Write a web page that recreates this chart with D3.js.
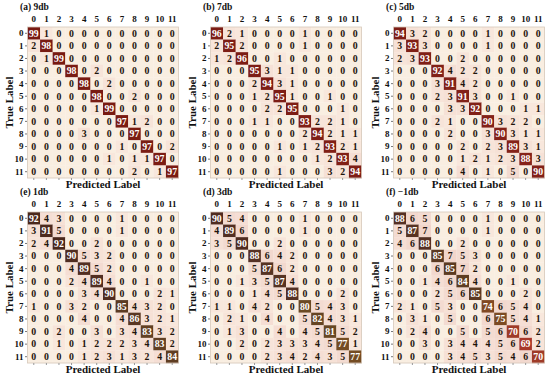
<!DOCTYPE html>
<html>
<head>
<meta charset="utf-8">
<script src="https://cdn.jsdelivr.net/npm/d3@7"></script>
<style>
  html, body { margin: 0; padding: 0; background: #ffffff; }
  svg { display: block; }
  text { font-family: "Liberation Serif", "Times New Roman", serif; font-weight: bold; }
</style>
</head>
<body>
<svg id="chart" width="550" height="378"></svg>
<script>
const classLabels = ["0","1","2","3","4","5","6","7","8","9","10","11"];
const panelTitles = ["(a) 9db", "(b) 7db", "(c) 5db", "(e) 1db", "(d) 3db", "(f) \u22121db"];

const mat9db = [
  [99,1,0,0,0,0,0,0,0,0,0,0],
  [2,98,0,0,0,0,0,0,0,0,0,0],
  [0,1,99,0,0,0,0,0,0,0,0,0],
  [0,0,0,98,0,2,0,0,0,0,0,0],
  [0,0,0,0,98,0,2,0,0,0,0,0],
  [0,0,0,0,0,98,0,0,2,0,0,0],
  [0,0,0,0,0,1,99,0,0,0,0,0],
  [0,0,0,0,0,0,0,97,1,2,0,0],
  [0,0,0,0,3,0,0,0,97,0,0,0],
  [0,0,0,0,0,0,0,1,0,97,0,2],
  [0,0,0,0,0,0,1,0,1,1,97,0],
  [0,0,0,0,0,0,0,0,2,0,1,97]
];
const mat7db = [
  [96,2,1,0,0,0,0,1,0,0,0,0],
  [2,95,2,0,0,0,0,1,0,0,0,0],
  [1,2,96,0,0,1,0,0,0,0,0,0],
  [0,0,0,95,3,1,1,0,0,0,0,0],
  [0,0,0,2,94,3,1,0,0,0,0,0],
  [0,0,0,1,2,95,1,0,0,1,0,0],
  [0,0,0,0,2,2,95,0,0,0,1,0],
  [0,0,0,1,1,0,0,93,2,2,1,0],
  [0,0,0,0,0,0,0,2,94,2,1,1],
  [0,0,0,0,0,1,0,1,2,93,2,1],
  [0,0,0,0,0,0,0,0,1,2,93,4],
  [0,0,0,0,0,1,0,0,0,3,2,94]
];
const mat5db = [
  [94,3,2,0,0,0,0,1,0,0,0,0],
  [3,93,3,0,0,0,0,1,0,0,0,0],
  [2,3,93,0,0,2,0,0,0,0,0,0],
  [0,0,0,92,4,2,2,0,0,0,0,0],
  [0,0,0,3,91,4,2,0,0,0,0,0],
  [0,0,0,2,3,91,3,0,0,1,0,0],
  [0,0,0,0,3,3,92,0,0,0,1,1],
  [0,0,0,2,1,0,0,90,3,2,2,0],
  [0,0,0,0,2,0,0,3,90,3,1,1],
  [0,0,0,0,0,2,0,2,3,89,3,1],
  [0,0,0,0,0,1,2,1,2,3,88,3],
  [0,0,0,0,0,4,0,1,0,5,0,90]
];
const mat1db = [
  [92,4,3,0,0,0,0,1,0,0,0,0],
  [3,91,5,0,0,0,0,1,0,0,0,0],
  [2,4,92,0,0,2,0,0,0,0,0,0],
  [0,0,0,90,5,3,2,0,0,0,0,0],
  [0,0,0,4,89,5,2,0,0,0,0,0],
  [0,0,0,2,4,89,4,0,0,1,0,0],
  [0,0,0,0,3,4,90,0,0,0,2,1],
  [1,0,0,3,2,0,0,85,4,3,2,0],
  [0,0,0,0,4,0,0,4,86,3,2,1],
  [0,0,2,0,0,3,0,3,4,83,3,2],
  [0,0,1,0,1,2,2,2,3,4,83,2],
  [0,0,0,0,1,2,3,1,3,2,4,84]
];
const mat3db = [
  [90,5,4,0,0,0,0,1,0,0,0,0],
  [4,89,6,0,0,0,0,1,0,0,0,0],
  [3,5,90,0,0,2,0,0,0,0,0,0],
  [0,0,0,88,6,4,2,0,0,0,0,0],
  [0,0,0,5,87,6,2,0,0,0,0,0],
  [0,0,1,3,5,87,4,0,0,0,0,0],
  [0,0,0,1,4,5,88,0,0,0,2,0],
  [1,1,0,4,2,0,0,80,5,4,3,0],
  [0,2,1,0,4,0,0,5,82,4,3,1],
  [0,1,3,0,0,4,0,4,5,81,5,2],
  [0,0,2,0,2,3,3,3,4,5,77,1],
  [0,0,0,0,2,3,4,2,4,3,5,77]
];
const matM1db = [
  [88,6,5,0,0,0,0,1,0,0,0,0],
  [5,87,7,0,0,0,0,1,0,0,0,0],
  [4,6,88,0,0,2,0,0,0,0,0,0],
  [0,0,0,85,7,5,3,0,0,0,0,0],
  [0,0,0,6,85,7,2,0,0,0,0,0],
  [0,0,1,4,6,84,4,0,0,1,0,0],
  [0,0,0,2,5,6,85,0,0,0,2,0],
  [2,1,0,5,3,0,0,74,6,5,4,0],
  [0,3,1,0,5,0,0,6,75,5,4,1],
  [0,2,4,0,0,5,0,5,6,70,6,2],
  [0,0,3,0,3,4,4,4,5,6,69,2],
  [0,0,0,0,3,4,5,3,5,4,6,70]
];

const matrices = [mat9db, mat7db, mat5db, mat1db, mat3db, matM1db];

const svg = d3.select("#chart");
const size = 151;
const panelX = [0, 183, 366];
const panelY = [0, 185];

// colour scales
const offColor = d3.scaleLinear().domain([0, 1, 7]).range(["#f9eee1", "#f8e7dc", "#f1d5cb"]).clamp(true);
const diagTop = d3.scaleLinear().domain([88, 99]).range(["#86231a", "#781a12"]).clamp(true);
const diagBottom = d3.scaleLinear()
  .domain([69, 72, 76, 80, 85, 88, 92])
  .range(["#a8372a", "#8c4324", "#774c22", "#6b4a24", "#5c3a22", "#553024", "#4a281c"]).clamp(true);

matrices.forEach((m, i) => {
  const col = i % 3, row = Math.floor(i / 3);
  const ox = panelX[col], oy = panelY[row];
  const x0 = ox + 27.5, y0 = oy + 27;
  const x = d3.scaleBand().domain(classLabels).range([x0, x0 + size]);
  const y = d3.scaleBand().domain(classLabels).range([y0, y0 + size]);
  const g = svg.append("g");

  const cells = [];
  m.forEach((r, ri) => r.forEach((v, ci) => cells.push({ r: classLabels[ri], c: classLabels[ci], v, diag: ri === ci })));

  g.selectAll("rect.cell").data(cells).enter().append("rect")
    .attr("x", d => x(d.c)).attr("y", d => y(d.r))
    .attr("width", x.bandwidth() + 0.2).attr("height", y.bandwidth() + 0.2)
    .attr("fill", d => d.diag ? (row === 0 ? diagTop(d.v) : diagBottom(d.v)) : offColor(d.v));

  g.append("rect").attr("x", x0).attr("y", y0).attr("width", size).attr("height", size)
    .attr("fill", "none").attr("stroke", "#d6c9bb").attr("stroke-width", 0.8);

  g.selectAll("text.val").data(cells).enter().append("text")
    .attr("x", d => x(d.c) + x.bandwidth() / 2)
    .attr("y", d => y(d.r) + y.bandwidth() / 2 + 3.3)
    .attr("text-anchor", "middle")
    .attr("font-size", 9.8)
    .attr("fill", d => d.diag ? "#ffffff" : "#1e140c")
    .text(d => d.v);

  // axes
  const left = g.append("g").attr("transform", `translate(${x0 - 0.5},0)`)
    .call(d3.axisLeft(y).tickSize(2).tickPadding(1.5));
  left.select(".domain").remove();
  left.selectAll("line").attr("stroke", "#777");
  left.selectAll("text").attr("font-size", 9).attr("fill", "#111")
    .attr("font-family", "Liberation Serif").attr("font-weight", "bold");

  const top = g.append("g").attr("transform", `translate(0,${y0})`)
    .call(d3.axisTop(x).tickSize(0).tickPadding(5));
  top.select(".domain").remove();
  top.selectAll("text").attr("font-size", 9).attr("fill", "#111")
    .attr("font-family", "Liberation Serif").attr("font-weight", "bold");

  const bottom = g.append("g").attr("transform", `translate(0,${y0 + size})`)
    .call(d3.axisBottom(x).tickSize(2).tickFormat(""));
  bottom.select(".domain").remove();
  bottom.selectAll("line").attr("stroke", "#999");

  g.append("text").attr("x", ox + 20).attr("y", oy + 9.5)
    .attr("font-size", 9.5).attr("fill", "#111").text(panelTitles[i]);

  g.append("text")
    .attr("transform", `translate(${ox + 13},${y0 + size / 2}) rotate(-90)`)
    .attr("text-anchor", "middle").attr("font-size", 11).attr("fill", "#111")
    .text("True Label");

  g.append("text").attr("x", x0 + size / 2).attr("y", y0 + size + 10)
    .attr("text-anchor", "middle").attr("font-size", 11).attr("fill", "#111")
    .text("Predicted Label");
});
</script>
</body>
</html>
